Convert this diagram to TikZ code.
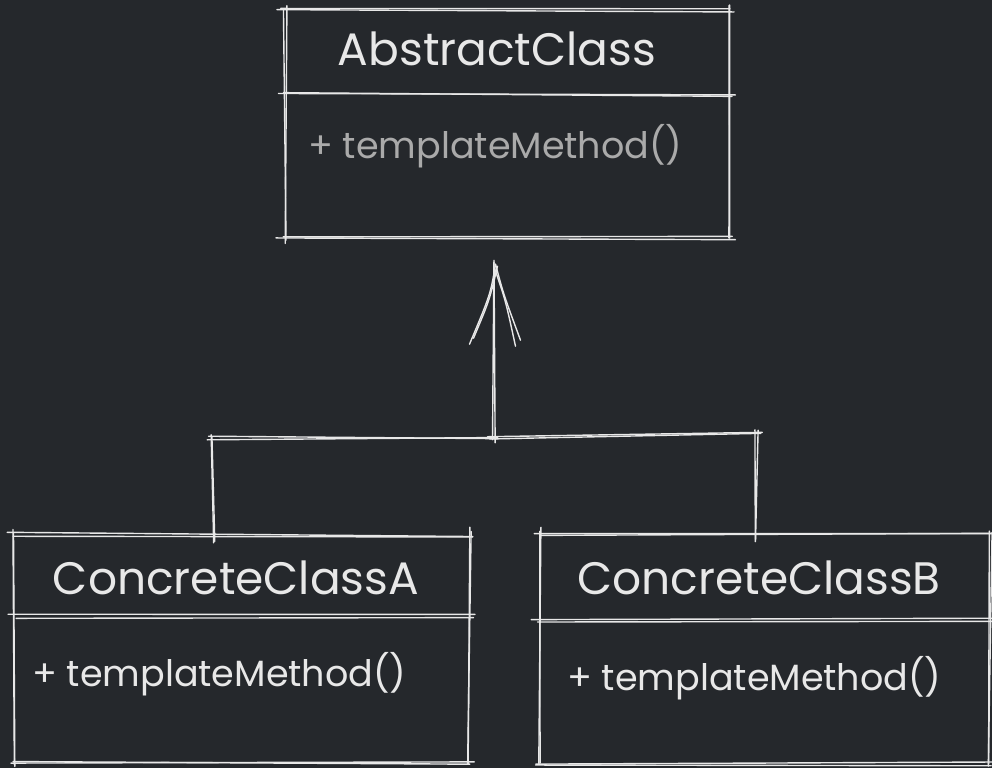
\documentclass[tikz,border=0pt]{standalone}
\usepackage{fontspec}
\setmainfont{Poppins}
\usetikzlibrary{calc}
\definecolor{bg}{RGB}{37,40,44}
\definecolor{ink}{RGB}{232,232,232}
\definecolor{dim}{RGB}{170,170,170}
\pgfmathsetseed{23}
\newcommand\skl[2]{%
  \pgfmathsetmacro\ja{rand*2.6}\pgfmathsetmacro\jb{rand*2.6}%
  \pgfmathsetmacro\jc{rand*2.6}\pgfmathsetmacro\jd{rand*2.6}%
  \pgfmathsetmacro\je{rand*2.6}\pgfmathsetmacro\jf{rand*2.6}%
  \pgfmathsetmacro\jg{rand*2.6}\pgfmathsetmacro\jh{rand*2.6}%
  \pgfmathsetmacro\oa{-abs(rand)*7}\pgfmathsetmacro\ob{-abs(rand)*7}%
  \pgfmathsetmacro\oc{-abs(rand)*7}\pgfmathsetmacro\od{-abs(rand)*7}%
  \draw[skline] ($#1!\oa pt!#2+(\ja,\jb)$) -- ($#2!\ob pt!#1+(\jc,\jd)$);
  \draw[skline] ($#1!\oc pt!#2+(\je,\jf)$) -- ($#2!\od pt!#1+(\jg,\jh)$);
}
\newcommand\skbox[2]{% node name, divider offset from top
  \coordinate (#1dl) at ($(#1.north west)+(0,#2)$);
  \coordinate (#1dr) at ($(#1.north east)+(0,#2)$);
  \skl{(#1.north west)}{(#1.north east)}
  \skl{(#1.north east)}{(#1.south east)}
  \skl{(#1.south east)}{(#1.south west)}
  \skl{(#1.south west)}{(#1.north west)}
  \skl{(#1dl)}{(#1dr)}
}
\begin{document}
\begin{tikzpicture}[x=1pt,y=-1pt,
  skline/.style={draw=ink,line width=1.4pt,line cap=round},
  classbox/.style={draw=none,minimum height=228pt,inner sep=0pt},
  title/.style={text=ink,font=\fontsize{45.5}{48}\selectfont,inner sep=0pt,anchor=base},
  method/.style={font=\fontsize{36.5}{40}\selectfont,inner sep=0pt,anchor=base west}]
\fill[bg] (0,0) rectangle (992,768);
\useasboundingbox (0,0) rectangle (992,768);

\node[classbox,minimum width=445pt] (abs) at (507.5,124) {};
\node[classbox,minimum width=455pt] (ca) at (242.5,649) {};
\node[classbox,minimum width=450pt] (cb) at (765,649) {};

\skbox{abs}{85}
\skbox{ca}{82}
\skbox{cb}{85}

\node[title] (absT) at (497,66) {AbstractClass};
\node[method,text=dim] (absM) at (308,158) {+ templateMethod()};
\node[title] (caT) at (236,594) {ConcreteClassA};
\node[title] (cbT) at (759,594) {ConcreteClassB};
\node[method,text=ink] (caM) at (32,686) {+ templateMethod()};
\node[method,text=ink] (cbM) at (567,690) {+ templateMethod()};

% connectors
\coordinate (j) at (494,438);
\coordinate (tip) at ($(abs.south)+(-12,26)$);
\coordinate (la) at ($(ca.north)+(-29,0)$);
\coordinate (lb) at ($(cb.north)+(-8,0)$);
\coordinate (ca1) at (la |- j);
\coordinate (cb1) at ($(lb |- j)+(0,-4)$);
\skl{(la)}{(ca1)}
\skl{(ca1)}{(j)}
\skl{(j)}{(cb1)}
\skl{(cb1)}{(lb)}
\skl{(j)}{(tip)}
\draw[skline] (tip) .. controls ($(tip)+(-5,30)$) .. ($(tip)+(-26,80)$);
\draw[skline] ($(tip)+(2,2)$) .. controls ($(tip)+(-6,36)$) .. ($(tip)+(-22,74)$);
\draw[skline] (tip) .. controls ($(tip)+(8,30)$) .. ($(tip)+(25,76)$);
\draw[skline] ($(tip)+(-1,4)$) .. controls ($(tip)+(10,36)$) .. ($(tip)+(20,82)$);
\end{tikzpicture}
\end{document}
